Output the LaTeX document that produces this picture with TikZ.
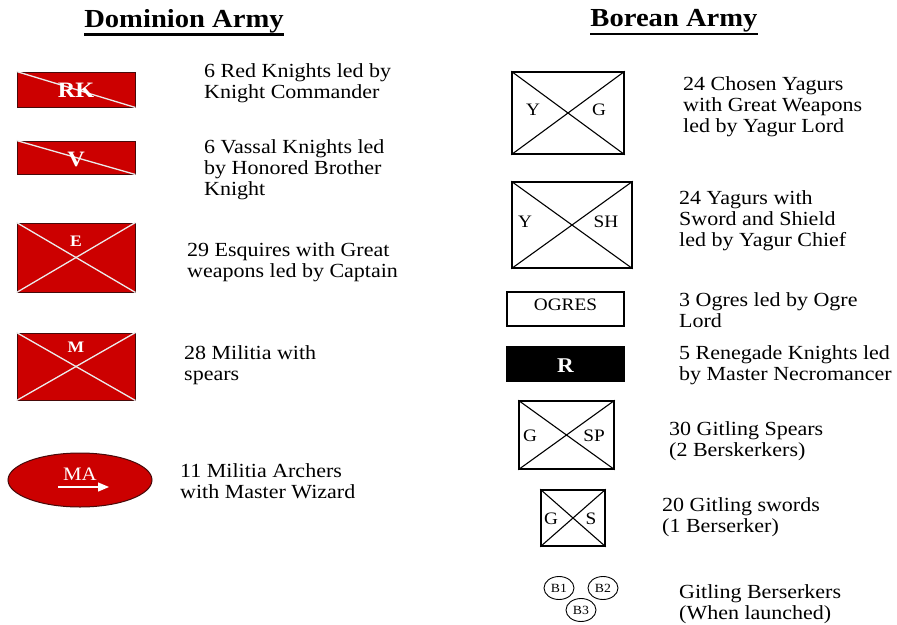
\documentclass[tikz,border=0pt]{standalone}
\usepackage{fontspec}
\setmainfont[FakeStretch=1.1]{Liberation Serif}
\usetikzlibrary{arrows.meta,shapes.geometric}
\definecolor{armyred}{RGB}{204,0,0}
\definecolor{rededge}{RGB}{70,10,10}
\tikzset{
  redbox/.style={rectangle, draw=rededge, line width=1pt, fill=armyred, inner sep=0pt},
  blackbox/.style={rectangle, draw=black, line width=1.5pt, inner sep=0pt},
  wline/.style={draw=white!92!black, line width=1.3pt},
  bline/.style={draw=black, line width=1.1pt},
  desc/.style={anchor=west, align=left, inner sep=0pt, font=\fontsize{20}{21}\selectfont},
  title/.style={inner sep=0pt, font=\fontsize{26}{28}\selectfont\bfseries},
  wbig/.style={text=white, inner sep=0pt, font=\fontsize{22}{22}\selectfont\bfseries},
  wsmall/.style={text=white, inner sep=0pt, font=\fontsize{16}{16}\selectfont\bfseries},
  blbl/.style={inner sep=0pt, font=\fontsize{17.5}{18}\selectfont},
  bsm/.style={ellipse, draw=black, line width=0.9pt, minimum width=30pt, minimum height=23pt, inner sep=0pt, font=\fontsize{12.5}{13}\selectfont}
}
\begin{document}
\begin{tikzpicture}[x=1pt,y=-1pt]
\useasboundingbox (0,0) rectangle (897,624);
\fill[white] (0,0) rectangle (897,624);
% titles
\node[title] (t1) at (184,21) {Dominion Army};
\draw[line width=2.5pt] ([yshift=-1.5pt]t1.south west) -- ([yshift=-1.5pt]t1.south east);
\node[title] (t2) at (674,21) {Borean Army};
\draw[line width=2.5pt] ([yshift=-1.5pt]t2.south west) -- ([yshift=-1.5pt]t2.south east);
% Dominion shapes
\node[redbox, minimum width=118pt, minimum height=35pt] (rk) at (76,89.5) {};
\draw[wline] (rk.north west) -- (rk.south east);
\node[wbig] at (76,90) {RK};
\node[redbox, minimum width=118pt, minimum height=33pt] (v) at (76,157.5) {};
\draw[wline] (v.north west) -- (v.south east);
\node[wbig] at (76,159) {V};
\node[redbox, minimum width=118pt, minimum height=69pt] (e) at (76,257.5) {};
\draw[wline] (e.north west) -- (e.south east);
\draw[wline] (e.south west) -- (e.north east);
\node[wsmall] at (76,241) {E};
\node[redbox, minimum width=118pt, minimum height=67pt] (m) at (76,366.5) {};
\draw[wline] (m.north west) -- (m.south east);
\draw[wline] (m.south west) -- (m.north east);
\node[wsmall] at (76,347) {M};
\node[ellipse, draw=rededge, line width=1pt, fill=armyred, minimum width=144pt, minimum height=54pt, inner sep=0pt] (ma) at (80,480) {};
\node[text=white, inner sep=0pt, font=\fontsize{19}{20}\selectfont] at (80,474) {MA};
\coordinate (ma1) at (58,487);
\coordinate (ma2) at (109,487);
\draw[white, line width=1.3pt, -{Triangle[length=11pt,width=9pt]}] (ma1) -- (ma2);
% Dominion texts
\node[desc] at (204,83.5) {6 Red Knights led by\\Knight Commander};
\node[desc] at (204,170) {6 Vassal Knights led\\by Honored Brother\\Knight};
\node[desc] at (187,262.5) {29 Esquires with Great\\weapons led by Captain};
\node[desc] at (184,365.5) {28 Militia with\\spears};
\node[desc] at (180,481.5) {11 Militia Archers\\with Master Wizard};
% Borean shapes
\node[blackbox, minimum width=112pt, minimum height=82pt] (yg) at (568,113) {};
\draw[bline] (yg.north west) -- (yg.south east);
\draw[bline] (yg.south west) -- (yg.north east);
\node[blbl] at (533,110) {Y};
\node[blbl] at (599,110) {G};
\node[blackbox, minimum width=120pt, minimum height=86pt] (ysh) at (572,225) {};
\draw[bline] (ysh.north west) -- (ysh.south east);
\draw[bline] (ysh.south west) -- (ysh.north east);
\node[blbl] at (525,222) {Y};
\node[blbl] at (606,222) {SH};
\node[blackbox, minimum width=117pt, minimum height=34pt] (og) at (565.5,309) {};
\node[blbl] at (565.5,305) {OGRES};
\node[blackbox, fill=black, minimum width=117pt, minimum height=34pt] (r) at (565.5,364) {};
\node[text=white, inner sep=0pt, font=\fontsize{21}{22}\selectfont\bfseries] at (565.5,366) {R};
\node[blackbox, minimum width=95pt, minimum height=68pt] (gsp) at (566.5,435) {};
\draw[bline] (gsp.north west) -- (gsp.south east);
\draw[bline] (gsp.south west) -- (gsp.north east);
\node[blbl] at (530,436) {G};
\node[blbl] at (594,436) {SP};
\node[blackbox, minimum width=64pt, minimum height=56pt] (gs) at (573,518) {};
\draw[bline] (gs.north west) -- (gs.south east);
\draw[bline] (gs.south west) -- (gs.north east);
\node[blbl] at (551,519) {G};
\node[blbl] at (591,519) {S};
\node[bsm] (b1) at (559,588) {B1};
\node[bsm] (b2) at (603,588) {B2};
\node[bsm] (b3) at (581,610) {B3};
% Borean texts
\node[desc] at (683,107) {24 Chosen Yagurs\\with Great Weapons\\led by Yagur Lord};
\node[desc] at (679,221) {24 Yagurs with\\Sword and Shield\\led by Yagur Chief};
\node[desc] at (679,310.5) {3 Ogres led by Ogre\\Lord};
\node[desc] at (679,365.5) {5 Renegade Knights led\\by Master Necromancer};
\node[desc] at (669,441.5) {30 Gitling Spears\\(2 Berskerkers)};
\node[desc] at (662,517.5) {20 Gitling swords\\(1 Berserker)};
\node[desc] at (679,604.5) {Gitling Berserkers\\(When launched)};
\end{tikzpicture}
\end{document}
